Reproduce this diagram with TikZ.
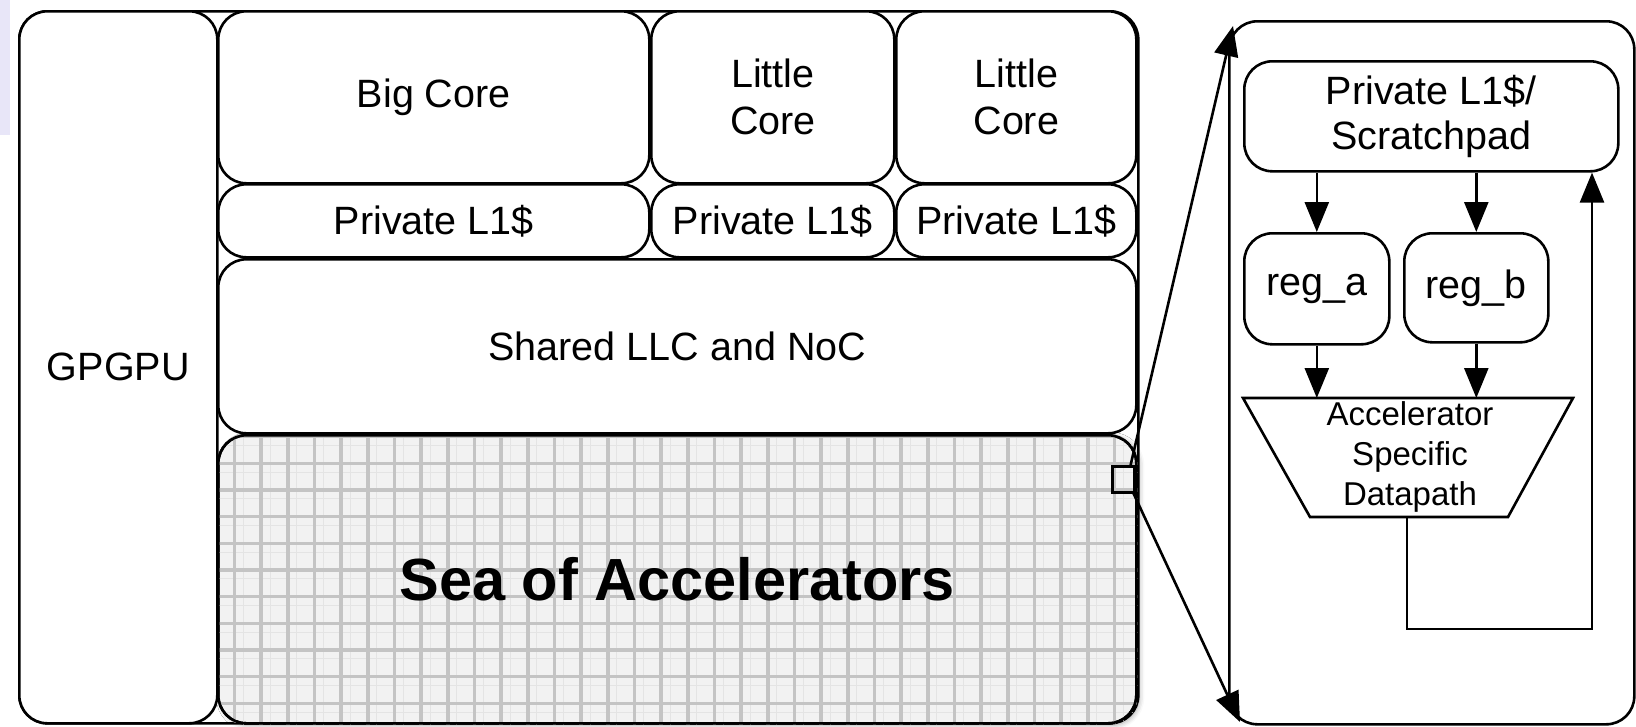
\documentclass[tikz,border=0pt]{standalone}
\usepackage{fontspec}
\setmainfont{Liberation Sans}
\usetikzlibrary{arrows.meta,shadows.blur}

\definecolor{seafill}{RGB}{242,242,242}
\definecolor{gridmajor}{RGB}{196,196,196}
\definecolor{gridminor}{RGB}{228,228,228}
\definecolor{lavender}{RGB}{232,230,248}

\tikzset{
  blk/.style={draw=black, line width=2.6pt, rounded corners=28pt, inner sep=0pt,
    align=center, fill=white, anchor=north west,
    font=\fontsize{39.5}{47}\selectfont},
  pnl/.style={blk, font=\fontsize{39.5}{45}\selectfont},
  arr/.style={line width=2.6pt, -{Triangle[length=30pt,width=24pt]}},
  wire/.style={line width=2.6pt},
}

\begin{document}
\begin{tikzpicture}[x=1pt,y=-1pt]
\useasboundingbox (0,0) rectangle (1636,726);
\fill[lavender] (0,0) rectangle (10,135);

% chip outline and the GPGPU column
\node[blk, minimum width=1119pt, minimum height=712pt] (chip) at (18,10) {};
\node[blk, minimum width=198pt, minimum height=712pt] (gpgpu) at (18,10) {GPGPU};

% cores
\node[blk, minimum width=431pt, minimum height=172pt] (big) at (217,10) {Big Core};
\node[blk, minimum width=243pt, minimum height=172pt] (little1) at (650,10) {Little\\Core};
\node[blk, minimum width=240pt, minimum height=172pt] (little2) at (895,10) {Little\\Core};

% private caches
\node[blk, minimum width=431pt, minimum height=73pt] (l1a) at (217,183) {Private L1\$};
\node[blk, minimum width=243pt, minimum height=73pt] (l1b) at (650,183) {Private L1\$};
\node[blk, minimum width=240pt, minimum height=73pt] (l1c) at (895,183) {Private L1\$};

% shared level
\node[blk, minimum width=918pt, minimum height=174pt] (llc) at (217,258) {Shared LLC and NoC};

% accelerator array with its tile grid
\node[blk, fill=seafill, minimum width=918pt, minimum height=288pt,
  blur shadow={shadow xshift=3pt, shadow yshift=-2pt, shadow blur radius=5pt, shadow opacity=35}]
  (sea) at (217,434) {};
\begin{scope}
  \clip[rounded corners=28pt] (sea.north west) rectangle (sea.south east);
  \foreach \k in {-1,...,35} {
    \draw[gridminor, line width=0.8pt] ({243.4+\k*26.667},430) -- ({243.4+\k*26.667},726);
  }
  \foreach \k in {-2,...,11} {
    \draw[gridminor, line width=0.8pt] (210,{472.2+\k*26.667}) -- (1140,{472.2+\k*26.667});
  }
  \foreach \k in {-1,...,35} {
    \draw[gridmajor, line width=3.6pt] ({234.5+\k*26.667},430) -- ({234.5+\k*26.667},726);
  }
  \foreach \k in {-2,...,11} {
    \draw[gridmajor, line width=3.6pt] (210,{463.3+\k*26.667}) -- (1140,{463.3+\k*26.667});
  }
\end{scope}
\node[draw=black, line width=2.6pt, rounded corners=28pt, inner sep=0pt, anchor=north west,
  minimum width=918pt, minimum height=288pt] (seaedge) at (217,434) {};
\node[font=\bfseries\fontsize{59.5}{72}\selectfont] (sealabel) at (sea.center) {Sea of Accelerators};

% one tile, shown enlarged on the right
\node[draw=black, line width=2.6pt, inner sep=0pt, anchor=north west,
  minimum width=22pt, minimum height=26pt] (tile) at (1111,465) {};

\node[blk, minimum width=405pt, minimum height=703pt] (zoomed) at (1228,20) {};
\coordinate (ztop) at (1233,26);
\coordinate (zbot) at (1240,722);
\draw[arr] ([xshift=-5pt]tile.north east) -- (ztop);
\draw[arr] ([xshift=-2pt]tile.south east) -- (zbot);

% tile internals
\node[pnl, minimum width=374pt, minimum height=110pt] (spad) at (1243,60) {Private L1\$/\\Scratchpad};
\node[pnl, minimum width=145pt, minimum height=111pt] (rega) at (1243,232) {reg\_a};
\node[pnl, minimum width=144pt, minimum height=109pt] (regb) at (1403,232) {reg\_b};

\coordinate (t1) at (1243,398);
\coordinate (t2) at (1573,398);
\coordinate (t3) at (1508,517);
\coordinate (t4) at (1310,517);
\draw[wire, line join=miter, fill=white] (t1) -- (t2) -- (t3) -- (t4) -- cycle;
\node[align=center, font=\fontsize{33}{40}\selectfont] (dp) at (1410,457) {Accelerator\\Specific\\Datapath};

\draw[arr] (spad.south -| rega.north) -- (rega.north);
\draw[arr] (spad.south -| regb.north) -- (regb.north);
\draw[arr] (rega.south) -- (rega.south |- t1);
\draw[arr] (regb.south) -- (regb.south |- t1);

\coordinate (dpout) at (1407,517);
\coordinate (fb) at (1592,629);
\draw[arr] (dpout) |- (fb) -- (fb |- spad.south);
\end{tikzpicture}
\end{document}
